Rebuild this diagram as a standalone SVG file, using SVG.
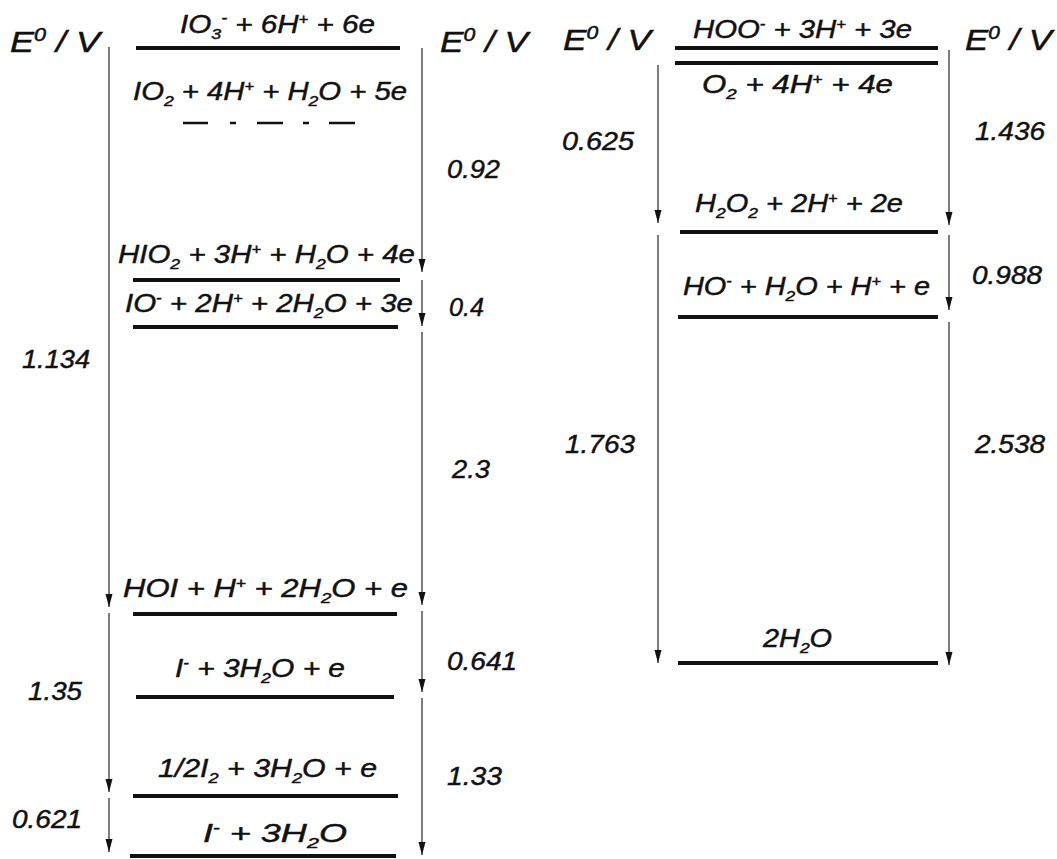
<svg xmlns="http://www.w3.org/2000/svg" width="1057" height="859" viewBox="0 0 1057 859">
<defs>
<style>
.t{font-family:"Liberation Sans",Arial,sans-serif;font-style:italic;font-size:25px;fill:#111;stroke:#111;stroke-width:0.45}
.h{font-family:"Liberation Sans",Arial,sans-serif;font-style:italic;font-size:30px;fill:#111;stroke:#111;stroke-width:0.5}
.lv{stroke:#111;stroke-width:4;fill:none}
.ax{stroke:#666;stroke-width:1.7;fill:none;marker-end:url(#ah)}
</style>
<marker id="ah" viewBox="0 0 13 8" refX="13" refY="4" markerWidth="13" markerHeight="8" markerUnits="userSpaceOnUse" orient="auto">
<path d="M0,0.5 L13,4 L0,7.5 Z" fill="#111"/>
</marker>
</defs>
<rect width="1057" height="859" fill="#fff"/>

<g id="axis-labels">
<text class="h" x="10" y="52" textLength="90" lengthAdjust="spacingAndGlyphs">E<tspan dy="-11" font-size="18">0</tspan><tspan dy="11"> / V</tspan></text>
<text class="h" x="440" y="52" textLength="88" lengthAdjust="spacingAndGlyphs">E<tspan dy="-11" font-size="18">0</tspan><tspan dy="11"> / V</tspan></text>
<text class="h" x="563" y="50" textLength="88" lengthAdjust="spacingAndGlyphs">E<tspan dy="-11" font-size="18">0</tspan><tspan dy="11"> / V</tspan></text>
<text class="h" x="965" y="50" textLength="87" lengthAdjust="spacingAndGlyphs">E<tspan dy="-11" font-size="18">0</tspan><tspan dy="11"> / V</tspan></text>
</g>

<g id="connectors">
<line class="ax" x1="109" y1="47" x2="109" y2="607"/>
<line class="ax" x1="109" y1="613" x2="109" y2="792"/>
<line class="ax" x1="109" y1="798" x2="109" y2="852"/>
<line class="ax" x1="422" y1="48" x2="422" y2="272"/>
<line class="ax" x1="422" y1="280" x2="422" y2="326"/>
<line class="ax" x1="422" y1="332" x2="422" y2="605"/>
<line class="ax" x1="422" y1="611" x2="422" y2="692"/>
<line class="ax" x1="422" y1="698" x2="422" y2="855"/>
<line class="ax" x1="658" y1="65" x2="658" y2="223"/>
<line class="ax" x1="658" y1="235" x2="658" y2="663"/>
<line class="ax" x1="949" y1="50" x2="949" y2="225"/>
<line class="ax" x1="949" y1="235" x2="949" y2="310"/>
<line class="ax" x1="949" y1="322" x2="949" y2="665"/>
</g>

<g id="io3">
<line class="lv" x1="136" y1="48" x2="400" y2="48"/>
<text class="t" x="180" y="33" textLength="195" lengthAdjust="spacingAndGlyphs">IO<tspan dy="6" font-size="15">3</tspan><tspan dy="-16" font-size="15">-</tspan><tspan dy="10"> + 6H</tspan><tspan dy="-9" font-size="14">+</tspan><tspan dy="9"> + 6e</tspan></text>
</g>
<g id="io2">
<path d="M183,123 H208 M230,123 H236 M257,123 H283 M303,123 H309 M329,123 H355" stroke="#111" stroke-width="2.5"/>
<text class="t" x="133" y="100" textLength="274" lengthAdjust="spacingAndGlyphs">IO<tspan dy="6" font-size="15">2</tspan><tspan dy="-6"> + 4H</tspan><tspan dy="-9" font-size="14">+</tspan><tspan dy="9"> + H</tspan><tspan dy="6" font-size="15">2</tspan><tspan dy="-6">O + 5e</tspan></text>
</g>
<g id="hio2">
<line class="lv" x1="133" y1="280" x2="400" y2="280"/>
<text class="t" x="118" y="263" textLength="297" lengthAdjust="spacingAndGlyphs">HIO<tspan dy="6" font-size="15">2</tspan><tspan dy="-6"> + 3H</tspan><tspan dy="-9" font-size="14">+</tspan><tspan dy="9"> + H</tspan><tspan dy="6" font-size="15">2</tspan><tspan dy="-6">O + 4e</tspan></text>
</g>
<g id="io">
<line class="lv" x1="133" y1="327" x2="398" y2="327"/>
<text class="t" x="125" y="312" textLength="288" lengthAdjust="spacingAndGlyphs">IO<tspan dy="-9" font-size="14">-</tspan><tspan dy="9"> + 2H</tspan><tspan dy="-9" font-size="14">+</tspan><tspan dy="9"> + 2H</tspan><tspan dy="6" font-size="15">2</tspan><tspan dy="-6">O + 3e</tspan></text>
</g>
<g id="hoi">
<line class="lv" x1="133" y1="614" x2="397" y2="614"/>
<text class="t" x="123" y="597" textLength="285" lengthAdjust="spacingAndGlyphs">HOI + H<tspan dy="-9" font-size="14">+</tspan><tspan dy="9"> + 2H</tspan><tspan dy="6" font-size="15">2</tspan><tspan dy="-6">O + e</tspan></text>
</g>
<g id="i-e">
<line class="lv" x1="136" y1="697" x2="394" y2="697" stroke-width="3.5"/>
<text class="t" x="175" y="677" textLength="170" lengthAdjust="spacingAndGlyphs">I<tspan dy="-9" font-size="14">-</tspan><tspan dy="9"> + 3H</tspan><tspan dy="6" font-size="15">2</tspan><tspan dy="-6">O + e</tspan></text>
</g>
<g id="i2">
<line class="lv" x1="133" y1="796" x2="398" y2="796"/>
<text class="t" x="158" y="777" textLength="219" lengthAdjust="spacingAndGlyphs">1/2I<tspan dy="6" font-size="15">2</tspan><tspan dy="-6"> + 3H</tspan><tspan dy="6" font-size="15">2</tspan><tspan dy="-6">O + e</tspan></text>
</g>
<g id="iodide">
<line class="lv" x1="130" y1="856" x2="396" y2="856" stroke-width="6"/>
<text class="t" x="203" y="842" textLength="144" lengthAdjust="spacingAndGlyphs">I<tspan dy="-9" font-size="14">-</tspan><tspan dy="9">  +  3H</tspan><tspan dy="6" font-size="15">2</tspan><tspan dy="-6">O</tspan></text>
</g>

<g id="hoo">
<line class="lv" x1="675" y1="48" x2="938" y2="48" stroke-width="4.5"/>
<text class="t" x="693" y="38" textLength="219" lengthAdjust="spacingAndGlyphs">HOO<tspan dy="-9" font-size="14">-</tspan><tspan dy="9"> + 3H</tspan><tspan dy="-9" font-size="14">+</tspan><tspan dy="9"> + 3e</tspan></text>
</g>
<g id="o2">
<line class="lv" x1="675" y1="63" x2="938" y2="63" stroke-width="4.5"/>
<text class="t" x="702" y="93" textLength="191" lengthAdjust="spacingAndGlyphs">O<tspan dy="6" font-size="15">2</tspan><tspan dy="-6"> + 4H</tspan><tspan dy="-9" font-size="14">+</tspan><tspan dy="9"> + 4e</tspan></text>
</g>
<g id="h2o2">
<line class="lv" x1="680" y1="232" x2="938" y2="232"/>
<text class="t" x="695" y="212" textLength="208" lengthAdjust="spacingAndGlyphs">H<tspan dy="6" font-size="15">2</tspan><tspan dy="-6">O</tspan><tspan dy="6" font-size="15">2</tspan><tspan dy="-6"> + 2H</tspan><tspan dy="-9" font-size="14">+</tspan><tspan dy="9"> + 2e</tspan></text>
</g>
<g id="ho">
<line class="lv" x1="678" y1="317" x2="938" y2="317"/>
<text class="t" x="683" y="295" textLength="247" lengthAdjust="spacingAndGlyphs">HO<tspan dy="-9" font-size="14">-</tspan><tspan dy="9"> + H</tspan><tspan dy="6" font-size="15">2</tspan><tspan dy="-6">O + H</tspan><tspan dy="-9" font-size="14">+</tspan><tspan dy="9"> + e</tspan></text>
</g>
<g id="h2o">
<line class="lv" x1="678" y1="663" x2="938" y2="663"/>
<text class="t" x="763" y="647" textLength="69" lengthAdjust="spacingAndGlyphs">2H<tspan dy="6" font-size="15">2</tspan><tspan dy="-6">O</tspan></text>
</g>

<g id="values">
<text class="t" x="22" y="368" textLength="68" lengthAdjust="spacingAndGlyphs">1.134</text>
<text class="t" x="28" y="700" textLength="54" lengthAdjust="spacingAndGlyphs">1.35</text>
<text class="t" x="12" y="828" textLength="70" lengthAdjust="spacingAndGlyphs">0.621</text>
<text class="t" x="447" y="178" textLength="53" lengthAdjust="spacingAndGlyphs">0.92</text>
<text class="t" x="449" y="316" textLength="35" lengthAdjust="spacingAndGlyphs">0.4</text>
<text class="t" x="452" y="478" textLength="38" lengthAdjust="spacingAndGlyphs">2.3</text>
<text class="t" x="447" y="670" textLength="70" lengthAdjust="spacingAndGlyphs">0.641</text>
<text class="t" x="447" y="785" textLength="55" lengthAdjust="spacingAndGlyphs">1.33</text>
<text class="t" x="562" y="150" textLength="72" lengthAdjust="spacingAndGlyphs">0.625</text>
<text class="t" x="975" y="140" textLength="70" lengthAdjust="spacingAndGlyphs">1.436</text>
<text class="t" x="972" y="284" textLength="70" lengthAdjust="spacingAndGlyphs">0.988</text>
<text class="t" x="565" y="453" textLength="70" lengthAdjust="spacingAndGlyphs">1.763</text>
<text class="t" x="975" y="453" textLength="70" lengthAdjust="spacingAndGlyphs">2.538</text>
</g>
</svg>
